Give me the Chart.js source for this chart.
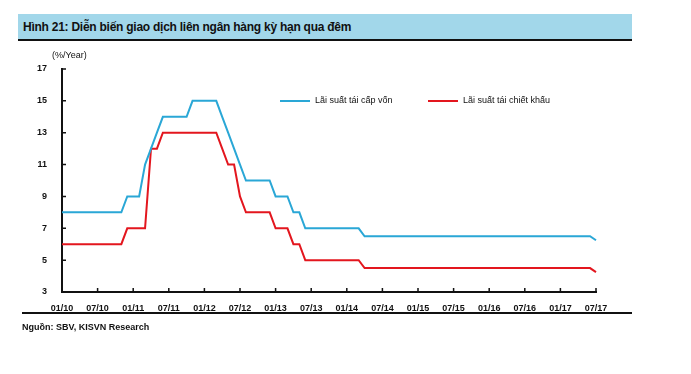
<!DOCTYPE html>
<html>
<head>
    <meta charset="utf-8">
    <title>Hinh 21</title>
    <style>
        body {
            margin: 0;
            width: 691px;
            height: 374px;
            position: relative;
            overflow: hidden;
            background: #fff;
            font-family: "Liberation Sans", Arial, sans-serif;
        }
        .band {
            position: absolute;
            left: 18px;
            top: 14px;
            width: 614px;
            height: 25px;
            background: #a2d7ea;
            border-bottom: 2px solid #111;
        }
        .band span {
            position: absolute;
            left: 5px;
            top: 6px;
            font-family: "Liberation Sans Narrow", "Liberation Sans", Arial, sans-serif;
            font-weight: bold;
            font-size: 12px;
            letter-spacing: -0.25px;
            color: #111;
        }
        .unit {
            position: absolute;
            left: 52px;
            top: 50px;
            font-size: 9px;
            color: #111;
        }
        .legend {
            position: absolute;
            top: 95px;
            font-size: 9px;
            color: #111;
        }
        .legend i {
            display: inline-block;
            width: 30px;
            height: 2px;
            vertical-align: middle;
            margin-right: 5px;
        }
        .bottomline {
            position: absolute;
            left: 22px;
            top: 312px;
            width: 610px;
            height: 2px;
            background: #111;
        }
        .source {
            position: absolute;
            left: 22px;
            top: 322px;
            font-size: 9px;
            font-weight: bold;
            color: #111;
        }
        canvas {
            position: absolute;
            left: 0;
            top: 0;
        }
    </style>
</head>
<body>
    <div class="band"><span>Hình 21: Diễn biến giao dịch liên ngân hàng kỳ hạn qua đêm</span></div>
    <div style="position:absolute;left:0;top:0;width:691px;height:374px">
        <canvas id="chart" width="691" height="374"></canvas>
    </div>
    <div class="unit">(%/Year)</div>
    <div class="legend" style="left:280px"><i style="background:#2aa7d6"></i>Lãi suất tái cấp vốn</div>
    <div class="legend" style="left:428px"><i style="background:#e3161e"></i>Lãi suất tái chiết khấu</div>
    <div class="bottomline"></div>
    <div class="source">Nguồn: SBV, KISVN Research</div>

    <script src="https://cdn.jsdelivr.net/npm/chart.js"></script>
    <script>
        // monthly, 01/10 .. 07/17
        const months = [
            '01/10','02/10','03/10','04/10','05/10','06/10','07/10','08/10','09/10','10/10','11/10','12/10',
            '01/11','02/11','03/11','04/11','05/11','06/11','07/11','08/11','09/11','10/11','11/11','12/11',
            '01/12','02/12','03/12','04/12','05/12','06/12','07/12','08/12','09/12','10/12','11/12','12/12',
            '01/13','02/13','03/13','04/13','05/13','06/13','07/13','08/13','09/13','10/13','11/13','12/13',
            '01/14','02/14','03/14','04/14','05/14','06/14','07/14','08/14','09/14','10/14','11/14','12/14',
            '01/15','02/15','03/15','04/15','05/15','06/15','07/15','08/15','09/15','10/15','11/15','12/15',
            '01/16','02/16','03/16','04/16','05/16','06/16','07/16','08/16','09/16','10/16','11/16','12/16',
            '01/17','02/17','03/17','04/17','05/17','06/17','07/17'
        ];

        // Lãi suất tái cấp vốn
        const refinancing = [
            8, 8, 8, 8, 8, 8, 8, 8, 8, 8, 8, 9,
            9, 9, 11, 12, 13, 14, 14, 14, 14, 14, 15, 15,
            15, 15, 15, 14, 13, 12, 11, 10, 10, 10, 10, 10,
            9, 9, 9, 8, 8, 7, 7, 7, 7, 7, 7, 7,
            7, 7, 7, 6.5, 6.5, 6.5, 6.5, 6.5, 6.5, 6.5, 6.5, 6.5,
            6.5, 6.5, 6.5, 6.5, 6.5, 6.5, 6.5, 6.5, 6.5, 6.5, 6.5, 6.5,
            6.5, 6.5, 6.5, 6.5, 6.5, 6.5, 6.5, 6.5, 6.5, 6.5, 6.5, 6.5,
            6.5, 6.5, 6.5, 6.5, 6.5, 6.5, 6.25
        ];

        // Lãi suất tái chiết khấu
        const discount = [
            6, 6, 6, 6, 6, 6, 6, 6, 6, 6, 6, 7,
            7, 7, 7, 12, 12, 13, 13, 13, 13, 13, 13, 13,
            13, 13, 13, 12, 11, 11, 9, 8, 8, 8, 8, 8,
            7, 7, 7, 6, 6, 5, 5, 5, 5, 5, 5, 5,
            5, 5, 5, 4.5, 4.5, 4.5, 4.5, 4.5, 4.5, 4.5, 4.5, 4.5,
            4.5, 4.5, 4.5, 4.5, 4.5, 4.5, 4.5, 4.5, 4.5, 4.5, 4.5, 4.5,
            4.5, 4.5, 4.5, 4.5, 4.5, 4.5, 4.5, 4.5, 4.5, 4.5, 4.5, 4.5,
            4.5, 4.5, 4.5, 4.5, 4.5, 4.5, 4.25
        ];

        const yTicks = [3, 5, 7, 9, 11, 13, 15, 17];

        // small tick marks pointing into the plot
        const innerTicks = {
            id: 'innerTicks',
            afterDraw(chart) {
                const c = chart.ctx;
                const xs = chart.scales.x, ys = chart.scales.y;
                c.save();
                c.strokeStyle = '#111';
                c.lineWidth = 1.5;
                c.beginPath();
                months.forEach((m, i) => {
                    if (i % 6 !== 0) return;
                    const x = xs.getPixelForValue(i);
                    c.moveTo(x, ys.bottom);
                    c.lineTo(x, ys.bottom - 4);
                });
                yTicks.forEach(v => {
                    const y = ys.getPixelForValue(v);
                    c.moveTo(xs.left, y);
                    c.lineTo(xs.left + 4, y);
                });
                c.stroke();
                c.restore();
            }
        };

        const ctx = document.getElementById('chart').getContext('2d');
        const chart = new Chart(ctx, {
            type: 'line',
            data: {
                labels: months,
                datasets: [{
                    label: 'Lãi suất tái cấp vốn',
                    data: refinancing,
                    borderColor: '#2aa7d6',
                    borderWidth: 2,
                    pointRadius: 0,
                    tension: 0
                }, {
                    label: 'Lãi suất tái chiết khấu',
                    data: discount,
                    borderColor: '#e3161e',
                    borderWidth: 2,
                    pointRadius: 0,
                    tension: 0
                }]
            },
            options: {
                responsive: false,
                animation: false,
                layout: {
                    padding: { left: 22, right: 95, top: 69, bottom: 62 }
                },
                plugins: {
                    legend: { display: false },
                    tooltip: { enabled: false }
                },
                scales: {
                    x: {
                        type: 'category',
                        offset: false,
                        grid: { display: false },
                        border: { color: '#111', width: 2 },
                        afterFit(s) { s.height = 20; },
                        ticks: {
                            autoSkip: false,
                            maxRotation: 0,
                            padding: 3,
                            color: '#111',
                            font: { family: 'Liberation Sans', size: 9, weight: 'bold' },
                            callback(v, i) { return i % 6 === 0 ? months[i] : null; }
                        }
                    },
                    y: {
                        min: 3,
                        max: 17,
                        grid: { display: false },
                        border: { color: '#111', width: 2 },
                        afterFit(s) { s.width = 40; },
                        afterBuildTicks(s) { s.ticks = yTicks.map(v => ({ value: v })); },
                        ticks: {
                            padding: 7,
                            color: '#111',
                            font: { family: 'Liberation Sans', size: 9, weight: 'bold' }
                        }
                    }
                }
            },
            plugins: [innerTicks]
        });
    </script>
</body>
</html>
